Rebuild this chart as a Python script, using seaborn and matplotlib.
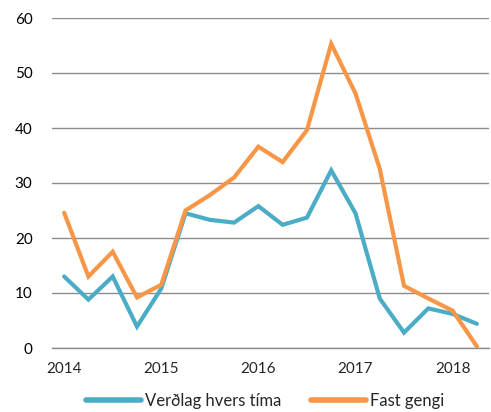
import matplotlib
matplotlib.use("Agg")
import matplotlib.pyplot as plt
import seaborn as sns
import pandas as pd
import numpy as np

quarters = ["2014Q1","2014Q2","2014Q3","2014Q4","2015Q1","2015Q2","2015Q3","2015Q4",
            "2016Q1","2016Q2","2016Q3","2016Q4","2017Q1","2017Q2","2017Q3","2017Q4",
            "2018Q1","2018Q2"]
verdlag = [13.0, 8.8, 13.0, 3.9, 10.8, 24.5, 23.3, 22.8, 25.8, 22.4, 23.7, 32.3,
           24.5, 9.0, 2.8, 7.2, 6.2, 4.4]
fast = [24.6, 13.0, 17.5, 9.2, 11.5, 25.0, 27.8, 31.0, 36.6, 33.8, 39.6, 55.3,
        46.3, 32.6, 11.3, 9.0, 6.8, 0.3]
year_labels = ["2014", "2015", "2016", "2017", "2018"]
series_names = ["Verðlag hvers tíma", "Fast gengi"]

sns.set_theme(style="white")
plt.rcParams['font.family'] = ['Lato', 'DejaVu Sans']

df = pd.DataFrame({
    "idx": list(range(len(quarters))) * 2,
    "value": verdlag + fast,
    "series": [series_names[0]] * len(quarters) + [series_names[1]] * len(quarters),
})

fig = plt.figure(figsize=(4.91, 4.12), dpi=100)
ax = fig.add_axes([52/491, 1-348/412, (489-52)/491, (348-18)/412])

palette = {series_names[0]: "#4BACC6", series_names[1]: "#F79646"}
sns.lineplot(data=df, x="idx", y="value", hue="series", palette=palette,
             linewidth=3.0, ax=ax, legend=True, solid_joinstyle="miter")

ax.set_xlim(-0.5, len(quarters) - 0.5)
ax.set_ylim(0, 60)
ax.set_yticks(np.arange(0, 61, 10))
ax.yaxis.grid(True, color="#8c8c8c", linewidth=1.0)
ax.set_axisbelow(True)
ax.tick_params(axis="y", length=0, labelsize=11, pad=14, colors="#000000")

ax.set_xticks(np.arange(-0.5, len(quarters), 4))
ax.set_xticklabels([])
ax.set_xticks(np.arange(0, len(quarters), 4), minor=True)
ax.set_xticklabels(year_labels, minor=True)
ax.tick_params(axis="x", which="major", length=5, width=1, color="#8c8c8c", direction="out")
ax.tick_params(axis="x", which="minor", length=0, labelsize=11, pad=10)

for s in ["left", "right", "top"]:
    ax.spines[s].set_visible(False)
ax.spines["bottom"].set_color("#8c8c8c")
ax.spines["bottom"].set_linewidth(1.0)
ax.set_xlabel("")
ax.set_ylabel("")

h, l = ax.get_legend_handles_labels()
ax.get_legend().remove()
leg = fig.legend(h, l, loc="center", bbox_to_anchor=(265/491, 1-401/412), ncol=2,
                 frameon=False, fontsize=12, handlelength=3.3, columnspacing=1.8,
                 handletextpad=0.25)
for line in leg.get_lines():
    line.set_linewidth(4.0)
    line.set_solid_capstyle("round")

fig.savefig("out.png", dpi=100)
